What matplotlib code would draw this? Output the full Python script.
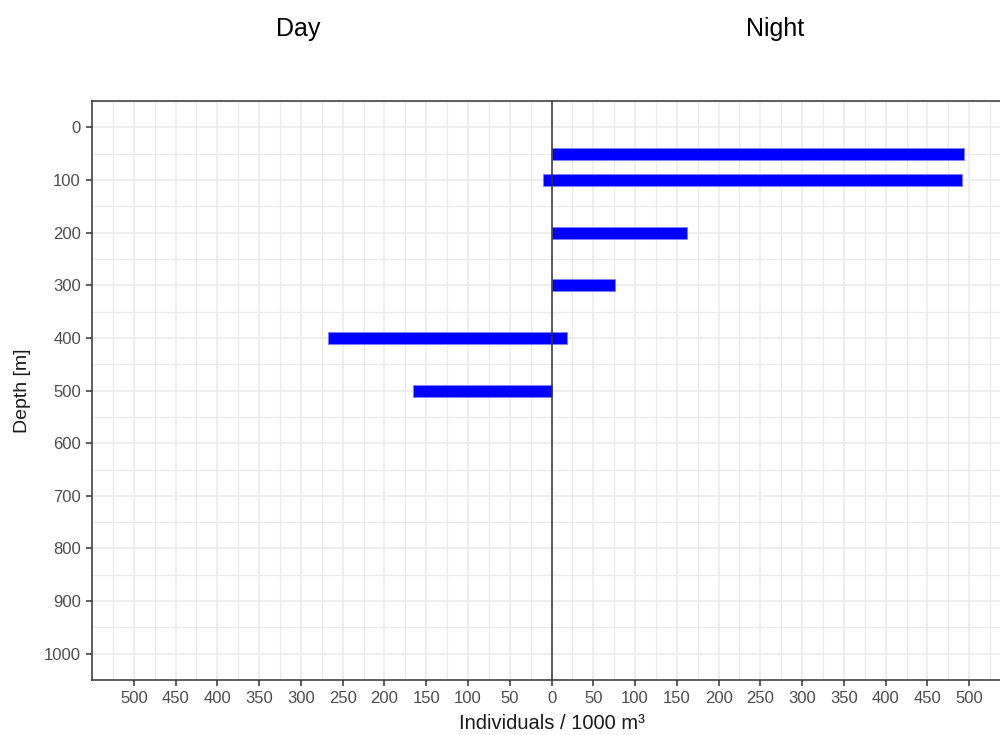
import matplotlib.pyplot as plt
import numpy as np

plt.rcParams['font.family'] = ['Liberation Sans', 'DejaVu Sans']

# abundance per depth layer, day on the negative side, night on the positive
depth = [50, 100, 200, 300, 400, 500]
day = [0, -10, 0, 0, -268, -166]
night = [494, 491, 162, 76, 18, 0]

xticks = np.arange(-500, 501, 50)
yticks = np.arange(0, 1001, 100)

fig = plt.figure(figsize=(10, 7.35), dpi=100)
ax = fig.add_axes([0.092, 0.0748, 0.919, 0.7876])

left = np.array(day)
width = np.array(night) - left
ax.barh(depth, width, left=left, height=23, color='#0000FF',
        edgecolor='#7F7FFF', linewidth=0.6, zorder=3)

ax.axvline(0, color='#333333', linewidth=1.1, zorder=4)

ax.set_xlim(-550, 550)
ax.set_ylim(1050, -50)
ax.set_xticks(xticks)
ax.set_xticklabels([str(abs(v)) for v in xticks])
ax.set_yticks(yticks)
ax.set_xticks(np.arange(-525, 551, 50), minor=True)
ax.set_yticks(np.arange(-50, 1051, 100), minor=True)

ax.grid(which='major', color='#EBEBEB', linewidth=1.2, zorder=0)
ax.grid(which='minor', color='#EBEBEB', linewidth=0.9, zorder=0)
ax.set_axisbelow(True)
ax.tick_params(which='major', length=4, width=1.1, color='#333333',
               labelcolor='#4D4D4D', labelsize=12, pad=4)
ax.tick_params(which='minor', length=0)
for s in ax.spines.values():
    s.set_color('#333333')
    s.set_linewidth(1.1)

ax.set_xlabel('Individuals / 1000 m³', fontsize=14.5, color='#1A1A1A', labelpad=6)
ax.set_ylabel('Depth [m]', fontsize=14, color='#1A1A1A', labelpad=9)

fig.text(0.298, 0.961, 'Day', fontsize=18, ha='center', va='center')
fig.text(0.775, 0.961, 'Night', fontsize=18, ha='center', va='center')

fig.savefig('out.png', dpi=100)
